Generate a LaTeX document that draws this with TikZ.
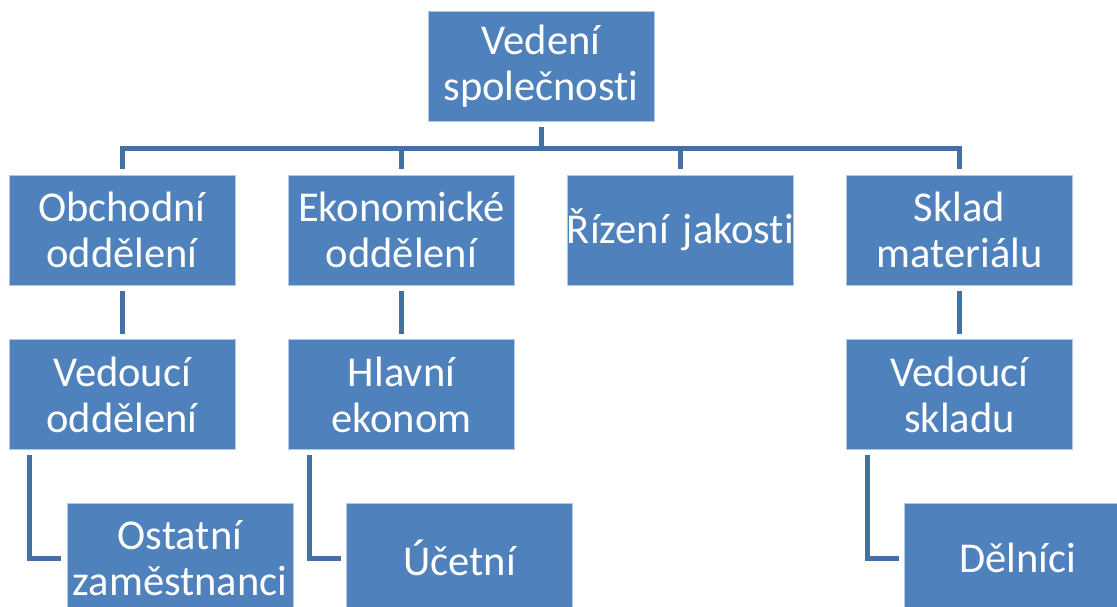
\documentclass[tikz,border=0pt]{standalone}
\usepackage{fontspec}
\setmainfont[Ligatures=NoCommon]{Carlito}
\definecolor{boxfill}{HTML}{4F81BD}
\definecolor{boxedge}{HTML}{B4C7E2}
\definecolor{linkcol}{HTML}{4371A3}
\begin{document}
\begin{tikzpicture}[x=1pt,y=-1pt,
  unit/.style={draw=boxedge, line width=0.8pt, fill=boxfill, text=white,
    minimum width=226pt, minimum height=110pt, text width=226pt,
    inner sep=0pt, align=center, font=\fontsize{42.5}{46}\selectfont},
  link/.style={draw=linkcol, line width=5pt, line join=miter,
    shorten <=5.5pt, shorten >=5.5pt}]
\useasboundingbox (0,0) rectangle (1117,607);
\clip (0,0) rectangle (1117,607);

% management
\node[unit] (ved) at (541,66.5) {Vedení\\společnosti};

% departments
\node[unit] (obch) at (122,230) {Obchodní\\oddělení};
\node[unit] (ekon) at (401.5,230) {Ekonomické\\oddělení};
\node[unit] (riz)  at (680.5,230) {\makebox[226pt]{Řízení jakosti}};
\node[unit] (skl)  at (959.5,230) {Sklad\\materiálu};

% heads
\node[unit] (vedo) at (122,394.5) {Vedoucí\\oddělení};
\node[unit] (hlav) at (401.5,394.5) {Hlavní\\ekonom};
\node[unit] (vsk)  at (959.5,394.5) {Vedoucí\\skladu};

% staff
\node[unit] (ost) at (180,558) {Ostatní\\zaměstnanci};
\node[unit] (uce) at (459.5,558) {Účetní};
\node[unit] (del) at (1017.5,558) {Dělníci};

% management to departments
\foreach \d in {obch,ekon,riz,skl}
  \draw[link] (ved.south) -- ++(0,27) -| (\d.north);

% departments to heads
\draw[link] (obch.south) -- (vedo.north);
\draw[link] (ekon.south) -- (hlav.north);
\draw[link] (skl.south) -- (vsk.north);

% heads to staff
\draw[link] ([xshift=21pt]vedo.south west) |- (ost.west);
\draw[link] ([xshift=21pt]hlav.south west) |- (uce.west);
\draw[link] ([xshift=21pt]vsk.south west) |- (del.west);
\end{tikzpicture}
\end{document}
